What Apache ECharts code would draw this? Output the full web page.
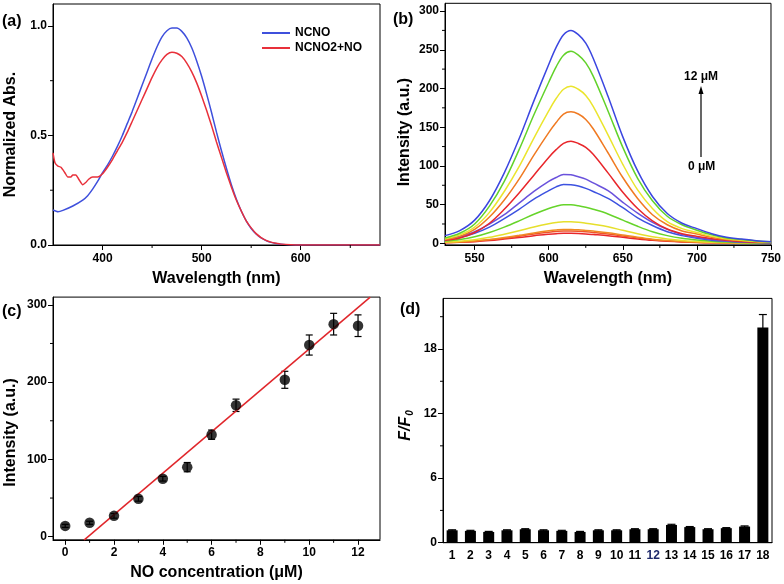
<!DOCTYPE html>
<html><head><meta charset="utf-8">
<script src="https://cdn.jsdelivr.net/npm/echarts@6/dist/echarts.min.js"></script>
<style>html,body{margin:0;padding:0;background:#fff}#c{width:784px;height:584px}</style>
</head><body><div id="c"></div><script>
// ---------- Panel (a): normalized absorbance ----------
const ncnoX = [350,355,360,370,380,385,390,395,400,405,410,415,420,425,430,435,440,445,450,455,460,465,470,475,480,485,490,495,500,505,510,515,520,525,530,535,540,545,550,555,560,565,570,575,580,590,600,680];
const ncnoY = [0.16,0.152,0.158,0.178,0.205,0.225,0.255,0.29,0.33,0.365,0.405,0.45,0.5,0.555,0.61,0.67,0.73,0.79,0.85,0.905,0.95,0.978,0.99,0.99,0.975,0.945,0.9,0.84,0.77,0.69,0.605,0.515,0.43,0.35,0.275,0.21,0.155,0.11,0.075,0.05,0.032,0.02,0.012,0.007,0.004,0.001,0,0];
const ncno2X = [350,352,355,358,362,365,368,370,373,376,380,383,386,390,395,400,405,410,415,420,425,430,435,440,445,450,455,460,465,470,475,480,485,490,495,500,505,510,515,520,525,530,535,540,545,550,555,560,565,570,575,580,590,600,680];
const ncno2Y = [0.42,0.375,0.36,0.355,0.33,0.31,0.31,0.32,0.32,0.3,0.275,0.285,0.3,0.31,0.31,0.325,0.355,0.39,0.43,0.47,0.515,0.565,0.615,0.665,0.715,0.765,0.81,0.845,0.87,0.88,0.875,0.86,0.83,0.79,0.74,0.68,0.615,0.545,0.47,0.4,0.33,0.265,0.205,0.155,0.11,0.078,0.052,0.034,0.021,0.013,0.008,0.004,0.001,0,0];
const absXTicks = [400,500,600];
const absXMinor = [450,550,650];
const absYTicks = [0,0.5,1.0];
const absYMinor = [0.25,0.75];

// ---------- Panel (b): emission spectra ----------
const emWave = [530,540,550,560,570,580,590,600,605,610,615,620,625,630,640,650,660,670,680,690,700,710,720,730,740,750];
const em01 = [0.8,1.3,2.2,3.6,5.5,7.5,9.8,11.7,12.5,13,12.9,12.6,12.1,11.4,9.9,7.8,5.7,3.9,2.6,1.7,1.1,0.7,0.5,0.3,0.2,0.1];
const em02 = [1,1.6,2.7,4.5,6.7,9.3,12,14.4,15.4,16,15.9,15.5,14.9,14.1,12.2,9.6,7,4.8,3.2,2.1,1.4,0.9,0.6,0.4,0.2,0.2];
const em03 = [1.1,1.8,3.1,5,7.6,10.4,13.5,16.2,17.3,18,17.9,17.5,16.7,15.8,13.7,10.8,7.9,5.4,3.6,2.3,1.5,1,0.6,0.4,0.3,0.2];
const em04 = [1.7,2.8,4.8,7.8,11.8,16.2,21,25.2,26.9,28,27.9,27.2,26,24.6,21.3,16.8,12.3,8.4,5.6,3.6,2.4,1.5,1,0.6,0.4,0.3];
const em05 = [3,5,8.5,14,21,29,37.5,45,48,50,49.8,48.5,46.5,44,38,30,22,15,10,6.5,4.3,2.8,1.8,1.1,0.8,0.5];
const em06 = [4.6,7.6,13,21,32,44,57,68,73,76,75.6,74,71,67,58,46,33,23,15,10,6.5,4,2.7,1.7,1.1,0.8];
const em07 = [5.3,9,15,25,37,52,67,80,85,89,88.5,86,83,78,68,53,39,27,18,11.5,7.5,5,3,2,1.3,1];
const em08 = [4,7,14,26,44,65,88,111,121,129,132,129,124,115,91,66,45,29,18.5,12.5,9,6,4,2.5,1.5,1];
const em09 = [5,9,18,34,56,83,114,143,156,167,170,167,160,148,117,85,58,37,24,16,12,8,5,3.5,2,1.5];
const em10 = [6,11,21,40,67,99,136,171,187,199,203,199,191,177,140,102,69,45,28,19,14,9,6,4,2.5,1.5];
const em11 = [7,13,25,48,80,121,166,208,228,243,248,243,233,216,171,124,84,55,35,24,17,11,7,5,3,2];
const em12 = [10,16.5,30,55,91,135,184,231,253,269.5,275,269.5,258.5,239,190,137.5,93.5,60.5,38.5,26,19,12.5,8,5.5,3.5,2];
const emSeries = [em01,em02,em03,em04,em05,em06,em07,em08,em09,em10,em11,em12];
const emColors = ['#e8262b','#f0522a','#f08a24','#e6df2c','#66d42a','#3d52e0','#6a52dc','#e8262b','#f07a22','#ebe52e','#62d22a','#3b46e0'];
const emXTicks = [550,600,650,700,750];
const emXMinor = [575,625,675,725];
const emYTicks = [0,50,100,150,200,250,300];
const emYMinor = [25,75,125,175,225,275];

// ---------- Panel (c): calibration ----------
const concX = [0,1,2,3,4,5,6,7,9,10,11,12];
const concY = [14,18,27,49,75,90,132,170,203,248,275,273];
const concErr = [2,2,3,3,3,6,6,8,11,13,14,14];
const fitX = [0.77,12.5];
const fitY = [-4.5,310];
const cXTicks = [0,2,4,6,8,10,12];
const cXMinor = [1,3,5,7,9,11];
const cYTicks = [0,100,200,300];
const cYMinor = [50,150,250];

// ---------- Panel (d): selectivity ----------
const selCats = ['1','2','3','4','5','6','7','8','9','10','11','12','13','14','15','16','17','18'];
const selVals = [1.15,1.1,1.0,1.15,1.25,1.15,1.1,1.0,1.15,1.15,1.25,1.25,1.65,1.45,1.25,1.35,1.5,20.0];
const selErr = [0.05,0.05,0.05,0.05,0.05,0.05,0.05,0.05,0.05,0.05,0.05,0.05,0.06,0.05,0.05,0.05,0.06,1.2];
const dYTicks = [0,6,12,18];
const dYMinor = [3,9,15,21];

const FONT = "'Liberation Sans', Arial, Helvetica, sans-serif";
function nameStyle(pad) { return {fontFamily: FONT, fontWeight: 'bold', fontSize: 16, color: '#000', padding: pad || 0}; }

function mainAxis(o) {
  return {
    type: 'value', gridIndex: o.g, min: o.min, max: o.max, position: o.pos,
    axisLine: {show: true, onZero: false, lineStyle: {color: '#000', width: 1}},
    axisTick: {show: true, length: 5, customValues: o.ticks, lineStyle: {color: '#000', width: 1}},
    axisLabel: {show: true, customValues: o.ticks, color: '#000', fontFamily: FONT, fontWeight: 'bold', fontSize: 12, margin: o.margin, formatter: o.fmt},
    splitLine: {show: false},
    name: o.name, nameLocation: 'middle', nameGap: o.gap, nameTextStyle: o.nameStyle || nameStyle(o.pad)
  };
}
function zip(a, b) { return a.map((v, i) => [v, b[i]]); }
function errRender(capW) {
  return function (params, api) {
    const x = api.value(0), y = api.value(1), e = api.value(2);
    const t = api.coord([x, y + e]);
    const b = api.coord([x, y - e]);
    const st = {stroke: '#000', lineWidth: 1.2};
    return {type: 'group', children: [
      {type: 'line', shape: {x1: t[0], y1: t[1], x2: b[0], y2: b[1]}, style: st},
      {type: 'line', shape: {x1: t[0] - capW, y1: t[1], x2: t[0] + capW, y2: t[1]}, style: st},
      {type: 'line', shape: {x1: b[0] - capW, y1: b[1], x2: b[0] + capW, y2: b[1]}, style: st}
    ]};
  };
}
// minor ticks drawn through the axes' own scales
function minorTicks(xi, yi, vals, dir, fixed, bandShift) {
  return {
    type: 'custom', xAxisIndex: xi, yAxisIndex: yi, silent: true, clip: false, z: 5,
    data: vals.map(v => dir === 'x' ? [v, fixed] : [fixed, v]),
    encode: {x: 0, y: 1},
    renderItem: function (params, api) {
      const p = api.coord([api.value(0), api.value(1)]);
      const st = {stroke: '#000', lineWidth: 1};
      if (dir === 'x') {
        return {type: 'line', shape: {x1: p[0], y1: p[1], x2: p[0], y2: p[1] + 3}, style: st};
      }
      let x = p[0];
      if (bandShift) x -= api.size([1, 0])[0] / 2;
      return {type: 'line', shape: {x1: x, y1: p[1], x2: x - 3, y2: p[1]}, style: st};
    }
  };
}

const gridBox = {show: true, borderColor: '#000', borderWidth: 1, backgroundColor: 'transparent'};
const chart = echarts.init(document.getElementById('c'), null, {renderer: 'canvas'});

const series = [];
series.push({type: 'line', name: 'NCNO', xAxisIndex: 0, yAxisIndex: 0, data: zip(ncnoX, ncnoY), showSymbol: false, smooth: 0.2, color: '#3f50dc', lineStyle: {width: 1.5}});
series.push({type: 'line', name: 'NCNO2+NO', xAxisIndex: 0, yAxisIndex: 0, data: zip(ncno2X, ncno2Y), showSymbol: false, smooth: 0.2, color: '#e8303a', lineStyle: {width: 1.5}});
emSeries.forEach((arr, i) => {
  series.push({type: 'line', xAxisIndex: 1, yAxisIndex: 1, data: zip(emWave, arr), showSymbol: false, smooth: 0.35, color: emColors[i], lineStyle: {width: 1.5}});
});
series.push({type: 'line', xAxisIndex: 2, yAxisIndex: 2, data: zip(fitX, fitY), showSymbol: false, color: '#e0262b', lineStyle: {width: 1.5}, clip: true});
series.push({type: 'custom', xAxisIndex: 2, yAxisIndex: 2, data: concX.map((x, i) => [x, concY[i], concErr[i]]), renderItem: errRender(3.5), encode: {x: 0, y: 1}, z: 3});
series.push({type: 'scatter', xAxisIndex: 2, yAxisIndex: 2, data: zip(concX, concY), symbol: 'circle', symbolSize: 10.5, itemStyle: {color: '#000'}, z: 4});
series.push({type: 'bar', xAxisIndex: 3, yAxisIndex: 3, data: selVals, barWidth: 11, itemStyle: {color: '#000'}});
series.push({type: 'custom', xAxisIndex: 3, yAxisIndex: 3, data: selVals.map((v, i) => [i, v, selErr[i]]), renderItem: errRender(4), encode: {x: 0, y: 1}, z: 3});
// minor ticks
series.push(minorTicks(0, 0, absXMinor, 'x', 0));
series.push(minorTicks(0, 0, absYMinor, 'y', 350));
series.push(minorTicks(1, 1, emXMinor, 'x', -2));
series.push(minorTicks(1, 1, emYMinor, 'y', 530));
series.push(minorTicks(2, 2, cXMinor, 'x', -4));
series.push(minorTicks(2, 2, cYMinor, 'y', -0.5));
series.push(minorTicks(3, 3, dYMinor, 'y', 0, true));

const option = {
  animation: false,
  backgroundColor: '#fff',
  grid: [
    Object.assign({left: 53, top: 4, width: 327, height: 241}, gridBox),
    Object.assign({left: 445, top: 3.3, width: 326, height: 241.6}, gridBox),
    Object.assign({left: 53, top: 297.1, width: 327, height: 242.7}, gridBox),
    Object.assign({left: 443, top: 298.4, width: 329, height: 244.3}, gridBox)
  ],
  legend: {
    data: ['NCNO', 'NCNO2+NO'], orient: 'vertical', left: 257, top: 22, itemGap: 3,
    icon: 'rect', itemWidth: 28, itemHeight: 2,
    textStyle: {fontFamily: FONT, fontWeight: 'bold', fontSize: 12, color: '#000'}
  },
  xAxis: [
    mainAxis({g: 0, min: 350, max: 680, pos: 'bottom', ticks: absXTicks, margin: 8, name: 'Wavelength (nm)', gap: 26}),
    mainAxis({g: 1, min: 530, max: 750, pos: 'bottom', ticks: emXTicks, margin: 8, name: 'Wavelength (nm)', gap: 26}),
    mainAxis({g: 2, min: -0.5, max: 12.9, pos: 'bottom', ticks: cXTicks, margin: 7, name: 'NO concentration (μM)', gap: 25}),
    {type: 'category', gridIndex: 3, data: selCats, position: 'bottom',
      axisLine: {show: true, lineStyle: {color: '#000', width: 1}}, axisTick: {show: false},
      axisLabel: {interval: 0, color: '#000', fontFamily: FONT, fontWeight: 'bold', fontSize: 12, margin: 7,
        formatter: v => v === '12' ? '{n|12}' : v,
        rich: {n: {color: '#1f2a6b', fontFamily: FONT, fontWeight: 'bold', fontSize: 12}}}}
  ],
  yAxis: [
    mainAxis({g: 0, min: 0, max: 1.1, pos: 'left', ticks: absYTicks, margin: 6, name: 'Normalized Abs.', gap: 34, pad: [0, 20, 0, 0], fmt: v => Number(v).toFixed(1)}),
    mainAxis({g: 1, min: -2, max: 310, pos: 'left', ticks: emYTicks, margin: 6, name: 'Intensity (a.u.)', gap: 32, pad: [0, 16, 0, 0]}),
    mainAxis({g: 2, min: -4, max: 310, pos: 'left', ticks: cYTicks, margin: 6, name: 'Intensity (a.u.)', gap: 34, pad: [0, 28, 0, 0]}),
    mainAxis({g: 3, min: 0, max: 22.7, pos: 'left', ticks: dYTicks, margin: 6, name: '{i|F/F}{s|0}', gap: 28,
      nameStyle: {color: '#000', padding: [0, 10, 0, 0], rich: {
        i: {fontFamily: FONT, fontWeight: 'bold', fontStyle: 'italic', fontSize: 16, color: '#000'},
        s: {fontFamily: FONT, fontWeight: 'bold', fontStyle: 'italic', fontSize: 10, color: '#000', padding: [8, 0, 0, 1]}
      }}})
  ],
  graphic: [
    {type: 'text', left: 2, top: 14, style: {text: '(a)', font: 'bold 16px ' + FONT, fill: '#000'}},
    {type: 'text', left: 393, top: 12, style: {text: '(b)', font: 'bold 16px ' + FONT, fill: '#000'}},
    {type: 'text', left: 2, top: 304, style: {text: '(c)', font: 'bold 16px ' + FONT, fill: '#000'}},
    {type: 'text', left: 400, top: 302, style: {text: '(d)', font: 'bold 16px ' + FONT, fill: '#000'}},
    {type: 'text', left: 684, top: 71, style: {text: '12 μM', font: 'bold 12px ' + FONT, fill: '#000'}},
    {type: 'text', left: 688, top: 161, style: {text: '0 μM', font: 'bold 12px ' + FONT, fill: '#000'}},
    {type: 'line', shape: {x1: 701, y1: 157, x2: 701, y2: 92}, style: {stroke: '#000', lineWidth: 1.2}},
    {type: 'polygon', shape: {points: [[701, 86], [698.5, 94], [703.5, 94]]}, style: {fill: '#000'}}
  ],
  series: series
};
chart.setOption(option);
</script></body></html>
